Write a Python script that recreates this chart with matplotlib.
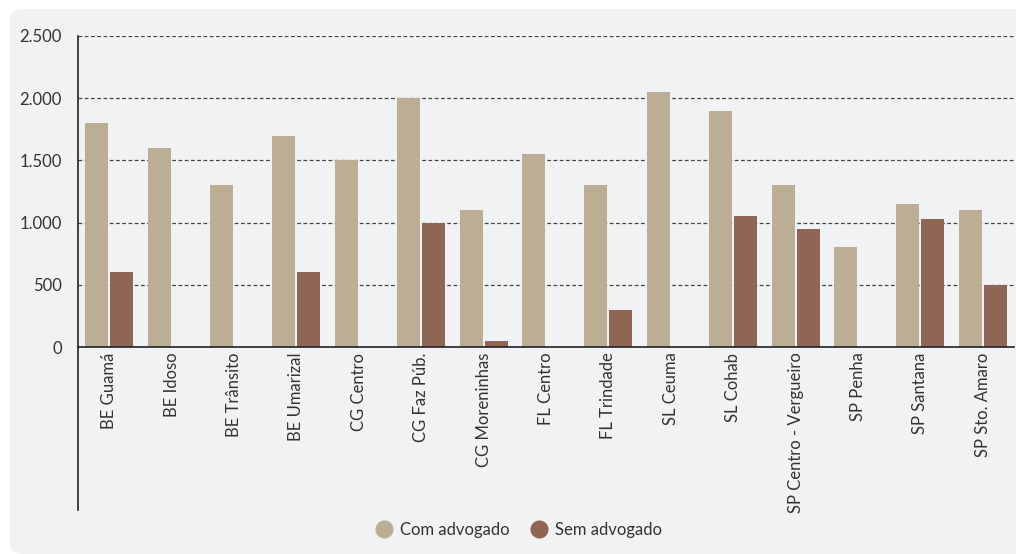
import matplotlib
matplotlib.use("Agg")
import matplotlib.pyplot as plt
from matplotlib.patches import FancyBboxPatch
from matplotlib.ticker import FuncFormatter
import numpy as np

categorias = ["BE Guamá", "BE Idoso", "BE Trânsito", "BE Umarizal", "CG Centro",
              "CG Faz Púb.", "CG Moreninhas", "FL Centro", "FL Trindade", "SL Ceuma",
              "SL Cohab", "SP Centro - Vergueiro", "SP Penha", "SP Santana", "SP Sto. Amaro"]
com_advogado = [1800, 1600, 1300, 1700, 1500, 2000, 1100, 1550, 1300, 2050,
                1900, 1300, 800, 1150, 1100]
sem_advogado = [600, 0, 0, 600, 0, 1000, 50, 0, 300, 0,
                1050, 950, 0, 1030, 500]
y_ticks = [0, 500, 1000, 1500, 2000, 2500]

plt.rcParams['font.family'] = ['Lato', 'DejaVu Sans']
txt = '#333333'

fig = plt.figure(figsize=(10.16, 5.54), dpi=100)
fig.patch.set_facecolor('white')
# fundo cinza arredondado
fig.patches.append(FancyBboxPatch((10/1016, 0), 1.1, 1 - 9/554,
                                  boxstyle="round,pad=0,rounding_size=0.015",
                                  transform=fig.transFigure, facecolor='#f1f2f4',
                                  edgecolor='none', zorder=-10))

ax = fig.add_axes([78/1016, 1 - 347/554, 936/1016, 311/554])
ax.set_facecolor('none')

x = np.arange(len(categorias))
w = 0.37
ax.bar(x - 0.2, com_advogado, w, color='#bcae94', label='Com advogado', zorder=2)
ax.bar(x + 0.2, sem_advogado, w, color='#8f6656', label='Sem advogado', zorder=2)

ax.set_xlim(-0.5, len(categorias) - 0.5)
ax.set_ylim(0, 2500)
ax.set_yticks(y_ticks)
ax.yaxis.set_major_formatter(FuncFormatter(lambda v, p: f"{int(v):,}".replace(",", ".")))
for v in y_ticks[1:]:
    ax.axhline(v, color='#444444', lw=0.9, ls=(0, (3, 2)), zorder=1)

ax.set_xticks(x)
ax.set_xticklabels(categorias, rotation=90, va='top', ha='center')
ax.tick_params(axis='both', length=0, labelsize=12, colors=txt)
ax.tick_params(axis='y', pad=11.5)
ax.tick_params(axis='x', pad=4)

for s in ['top', 'right', 'left']:
    ax.spines[s].set_visible(False)
ax.spines['bottom'].set_color('#222222')
ax.spines['bottom'].set_linewidth(1.2)
ax.plot([0, 0], [-0.524, 1], transform=ax.transAxes, color='#222222', lw=1.2,
        clip_on=False, zorder=3)

h1 = plt.Line2D([], [], marker='o', ls='none', markersize=12, color='#bcae94')
h2 = plt.Line2D([], [], marker='o', ls='none', markersize=12, color='#8f6656')
fig.legend([h1, h2], ['Com advogado', 'Sem advogado'], loc='center',
           bbox_to_anchor=(519/1016, 1 - 530/554), ncol=2, frameon=False,
           fontsize=12, labelcolor=txt, handletextpad=0.45, columnspacing=1.3,
           handlelength=1.0)

fig.savefig("out.png", dpi=100)
